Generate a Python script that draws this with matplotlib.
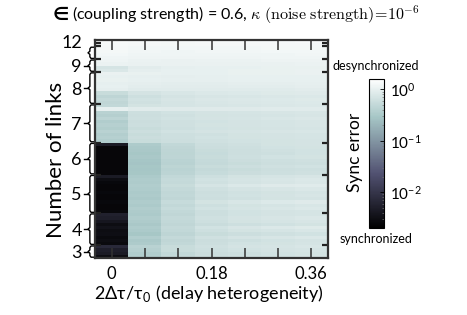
import numpy as np
import matplotlib.pyplot as plt
import matplotlib.transforms as mtransforms
from matplotlib.colors import LogNorm

plt.rcParams['font.family'] = ['Lato', 'DejaVu Sans']
plt.rcParams['mathtext.fontset'] = 'cm'

# delay heterogeneity columns
delays = [0, 0.06, 0.12, 0.18, 0.24, 0.30, 0.36]
delay_labels = ['0', '', '', '0.18', '', '', '0.36']

# sync error, one row per network, grouped by number of links (bottom -> top)
links_3 = [
    [0.0030, 0.38, 0.52, 0.60, 0.64, 0.66, 0.70],
    [0.0045, 0.36, 0.50, 0.58, 0.62, 0.66, 0.68],
    [0.0050, 0.40, 0.55, 0.62, 0.66, 0.70, 0.72],
    [0.0070, 0.42, 0.56, 0.64, 0.70, 0.72, 0.76],
]
links_4 = [
    [0.0028, 0.34, 0.50, 0.60, 0.66, 0.68, 0.72],
    [0.0030, 0.32, 0.48, 0.58, 0.62, 0.66, 0.70],
    [0.0028, 0.36, 0.52, 0.64, 0.70, 0.74, 0.78],
    [0.0032, 0.30, 0.46, 0.56, 0.60, 0.64, 0.66],
    [0.0030, 0.33, 0.50, 0.62, 0.68, 0.72, 0.76],
    [0.0035, 0.35, 0.52, 0.66, 0.74, 0.80, 0.84],
    [0.0030, 0.31, 0.47, 0.57, 0.62, 0.65, 0.68],
    [0.0040, 0.34, 0.50, 0.62, 0.68, 0.72, 0.75],
    [0.0050, 0.36, 0.52, 0.64, 0.70, 0.74, 0.78],
    [0.0055, 0.33, 0.48, 0.60, 0.66, 0.70, 0.72],
]
links_5 = [
    [0.0026, 0.34, 0.50, 0.60, 0.66, 0.70, 0.72],
    [0.0025, 0.36, 0.54, 0.66, 0.72, 0.76, 0.80],
    [0.0025, 0.33, 0.50, 0.62, 0.68, 0.72, 0.76],
    [0.0026, 0.35, 0.54, 0.68, 0.76, 0.82, 0.86],
    [0.0025, 0.32, 0.48, 0.60, 0.64, 0.68, 0.70],
    [0.0025, 0.34, 0.50, 0.62, 0.66, 0.70, 0.74],
    [0.0026, 0.33, 0.49, 0.60, 0.65, 0.68, 0.72],
    [0.0025, 0.35, 0.52, 0.64, 0.70, 0.74, 0.78],
    [0.0025, 0.36, 0.56, 0.72, 0.80, 0.86, 0.90],
    [0.0026, 0.34, 0.52, 0.64, 0.70, 0.74, 0.78],
    [0.0030, 0.35, 0.53, 0.66, 0.72, 0.76, 0.80],
    [0.0045, 0.33, 0.50, 0.62, 0.68, 0.72, 0.74],
]
links_6 = [
    [0.0025, 0.30, 0.44, 0.54, 0.58, 0.62, 0.64],
    [0.0025, 0.29, 0.43, 0.52, 0.56, 0.60, 0.62],
    [0.0025, 0.30, 0.45, 0.55, 0.60, 0.64, 0.66],
    [0.0025, 0.28, 0.42, 0.52, 0.56, 0.60, 0.62],
    [0.0025, 0.29, 0.43, 0.53, 0.58, 0.62, 0.64],
    [0.0025, 0.31, 0.46, 0.56, 0.62, 0.66, 0.68],
    [0.0025, 0.30, 0.45, 0.54, 0.60, 0.62, 0.66],
    [0.0025, 0.31, 0.46, 0.56, 0.60, 0.64, 0.66],
    [0.0025, 0.32, 0.48, 0.58, 0.62, 0.66, 0.68],
    [0.0045, 0.34, 0.50, 0.60, 0.64, 0.68, 0.70],
]
links_7 = [
    [0.36, 0.55, 0.60, 0.64, 0.66, 0.68, 0.70],
    [0.40, 0.58, 0.62, 0.66, 0.68, 0.70, 0.72],
    [0.38, 0.56, 0.62, 0.64, 0.68, 0.70, 0.72],
    [0.42, 0.60, 0.66, 0.70, 0.72, 0.74, 0.76],
    [0.37, 0.56, 0.62, 0.66, 0.68, 0.70, 0.72],
    [0.40, 0.60, 0.64, 0.68, 0.70, 0.72, 0.74],
    [0.36, 0.58, 0.63, 0.66, 0.70, 0.72, 0.74],
    [0.44, 0.62, 0.66, 0.70, 0.72, 0.76, 0.78],
    [0.39, 0.60, 0.64, 0.68, 0.70, 0.72, 0.75],
    [0.42, 0.62, 0.66, 0.70, 0.72, 0.74, 0.76],
    [0.98, 0.88, 0.86, 0.86, 0.86, 0.88, 0.88],
    [0.50, 0.68, 0.72, 0.74, 0.76, 0.78, 0.80],
]
links_8 = [
    [0.48, 0.64, 0.72, 0.76, 0.78, 0.80, 0.82],
    [0.52, 0.66, 0.74, 0.78, 0.80, 0.82, 0.84],
    [0.46, 0.62, 0.70, 0.74, 0.76, 0.78, 0.80],
    [0.55, 0.70, 0.76, 0.80, 0.82, 0.84, 0.86],
    [0.95, 0.90, 0.88, 0.88, 0.90, 0.90, 0.92],
    [1.00, 0.94, 0.92, 0.92, 0.94, 0.94, 0.95],
    [0.98, 0.95, 0.94, 0.94, 0.95, 0.96, 0.98],
    [1.05, 1.00, 0.98, 0.98, 1.00, 1.00, 1.02],
    [1.02, 0.98, 0.97, 0.98, 1.00, 1.00, 1.02],
    [1.08, 1.04, 1.02, 1.02, 1.04, 1.05, 1.06],
]
links_9 = [
    [0.78, 0.95, 1.00, 1.02, 1.04, 1.05, 1.06],
    [0.72, 0.92, 0.98, 1.00, 1.02, 1.04, 1.05],
    [1.10, 1.08, 1.06, 1.06, 1.08, 1.08, 1.10],
    [1.15, 1.10, 1.08, 1.10, 1.10, 1.12, 1.12],
]
links_10 = [
    [1.20, 1.15, 1.14, 1.15, 1.16, 1.18, 1.18],
    [1.25, 1.20, 1.18, 1.18, 1.20, 1.20, 1.22],
    [1.28, 1.22, 1.20, 1.22, 1.22, 1.24, 1.25],
    [1.30, 1.25, 1.24, 1.25, 1.26, 1.28, 1.28],
]
links_11 = [[1.35, 1.30, 1.28, 1.30, 1.30, 1.32, 1.32]]
links_12 = [[1.40, 1.35, 1.32, 1.34, 1.35, 1.36, 1.38]]

groups = [links_3, links_4, links_5, links_6, links_7, links_8,
          links_9, links_10, links_11, links_12]
group_labels = ['3', '4', '5', '6', '7', '8', '9', '', '', '12']

err = np.array([row for g in groups for row in g])
sizes = [len(g) for g in groups]
edges = np.concatenate([[0], np.cumsum(sizes)])
centers = (edges[:-1] + edges[1:]) / 2
nrows = len(err)

fig = plt.figure(figsize=(4.67, 3.15), dpi=100)
ax = fig.add_axes([95/467, 1-258/315, 233/467, 218/315])

step = delays[1] - delays[0]
im = ax.imshow(err, cmap='bone', norm=LogNorm(vmin=0.002, vmax=1.6),
               aspect='auto', origin='lower', interpolation='nearest',
               extent=[delays[0]-step/2, delays[-1]+step/2, 0, nrows])

for s in ax.spines.values():
    s.set_color('#333333')
    s.set_linewidth(1.6)

ax.set_xticks(delays)
ax.set_xticklabels(delay_labels)
ax.tick_params(axis='x', direction='in', top=True, length=7, width=1.1,
               color='#333333', labelsize=12, pad=6)

ax.set_yticks(centers)
ax.set_yticklabels(group_labels)
ax.tick_params(axis='y', which='major', length=0, labelsize=13, pad=9.5)
ax.set_yticks(edges[1:-1], minor=True)
ax.tick_params(axis='y', which='minor', direction='in', left=True, right=True,
               length=4.5, width=1.6, color='#222222')

# braces grouping the rows
tr = mtransforms.blended_transform_factory(ax.transAxes, ax.transData)
for k in range(8):
    lo, hi = edges[k] + 0.25, edges[k+1] - 0.25
    mid = centers[k]
    d = 0.5
    xs = [-0.004, -0.017, -0.022, -0.022, -0.030, -0.022, -0.022, -0.017, -0.004]
    ys = [hi, hi, hi-d, mid+d, mid, mid-d, lo+d, lo, lo]
    ax.plot(xs, ys, color='black', lw=1, transform=tr, clip_on=False)
    if group_labels[k]:
        ax.plot([-0.030, -0.046], [mid, mid], color='black', lw=1,
                transform=tr, clip_on=False)

fig.text(56/467, 1-160/315, 'Number of links', rotation=90, ha='center',
         va='center', fontsize=16)
fig.text(209/467, 1-294/315, '2Δτ/τ$_\\mathregular{0}$ (delay heterogeneity)',
         ha='center', va='center', fontsize=13)

# title: the element sign is drawn separately in DejaVu Sans
title = fig.text(420/467, 1-15/315,
                 '(coupling strength) = 0.6, '
                 r'$\kappa\ \mathrm{(noise\ strength)}\!=\!10^{-6}$',
                 ha='right', va='center', fontsize=11.5)
renderer = fig.canvas.get_renderer()
bb = title.get_window_extent(renderer)
fig.text((bb.x0 - 4) / 467, 1-15/315, '∈', family='DejaVu Sans',
         ha='right', va='center', fontsize=13, fontweight='bold')

cax = fig.add_axes([369/467, 1-228/315, 15/467, 149/315])
cb = fig.colorbar(im, cax=cax)
cb.set_ticks([1e-2, 1e-1, 1])
cb.set_ticklabels([r'$\mathregular{10^{-2}}$', r'$\mathregular{10^{-1}}$',
                   r'$\mathregular{10^{0}}$'])
cb.outline.set_linewidth(0.8)
cax.tick_params(which='major', direction='in', length=3, width=0.6,
                labelsize=11, pad=4)
cax.tick_params(which='minor', direction='in', length=1.5, width=0.5,
                color='#777777')
fig.text(355/467, 1-152/315, 'Sync error', rotation=90, ha='center',
         va='center', fontsize=12.5)
fig.text(376/467, 1-66/315, 'desynchronized', ha='center', va='center',
         fontsize=9)
fig.text(376/467, 1-239/315, 'synchronized', ha='center', va='center',
         fontsize=9)

fig.savefig('out.png', dpi=100)
